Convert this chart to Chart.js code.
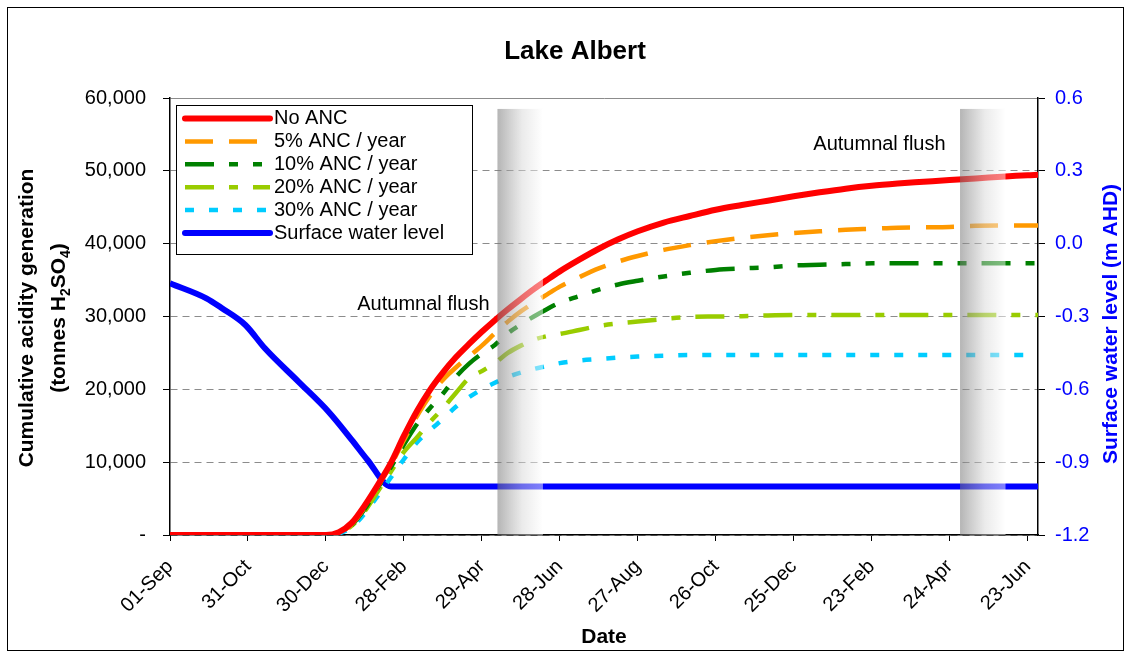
<!DOCTYPE html>
<html>
<head>
<meta charset="utf-8">
<script src="https://cdn.jsdelivr.net/npm/chart.js@4.4.0/dist/chart.umd.min.js"></script>
<style>
html,body{margin:0;padding:0;background:#fff;}
#wrap{position:relative;width:1126px;height:657px;}
#frame{position:absolute;left:7px;top:7px;width:1115px;height:642px;border:1px solid #000;pointer-events:none;}
</style>
</head>
<body>
<div id="wrap"><canvas id="c" width="1126" height="657"></canvas><div id="frame"></div></div>
<script>
// ---- data (day index counted from 01-Sep) ----
const days   = [0,120,130,140,150,160,170,180,190,200,210,220,230,240,250,260,270,280,290,300,315,330,345,360,380,400,420,440,460,480,500,520,540,560,580,600,620,640,660,668];
const noANC  = [0,0,400,1700,4100,6900,9900,13600,17000,19900,22300,24400,26200,27900,29500,31000,32400,33750,35000,36200,37800,39300,40600,41700,42900,43800,44650,45300,45900,46500,47050,47550,47950,48250,48500,48750,48950,49200,49400,49450];
const anc5   = [0,0,330,1500,3800,6700,9600,13000,16300,19100,21300,23000,24500,26000,27700,29300,30700,31900,33000,34100,35400,36600,37550,38300,39150,39800,40350,40800,41150,41450,41700,41900,42050,42200,42250,42300,42450,42500,42500,42500];
const anc10  = [0,0,300,1400,3600,6500,9300,12400,15200,17400,19400,21700,23500,24900,26100,27700,28900,30000,31000,31900,32800,33700,34400,34900,35500,36000,36400,36600,36750,37000,37100,37200,37300,37300,37300,37300,37300,37300,37300,37300];
const anc20  = [0,0,250,1300,3300,6000,8700,11400,13400,15500,17400,19500,21500,22500,23600,25000,26000,26800,27300,27600,28150,28700,29050,29300,29650,29950,30000,30050,30150,30200,30200,30200,30200,30200,30200,30200,30200,30200,30200,30200];
const anc30  = [0,0,200,1100,3000,5400,7900,10400,12700,14400,15900,17600,18900,20000,20900,21700,22300,22800,23200,23600,23950,24150,24350,24500,24600,24700,24700,24700,24700,24700,24700,24700,24700,24700,24700,24700,24700,24700,24700,24700];
const waterDays  = [0,28,40,58,73,99,122,140,152,170,668];
const waterLevel = [-0.163,-0.225,-0.266,-0.335,-0.431,-0.569,-0.692,-0.809,-0.891,-1.0,-1.0];
const tickLabels = ['01-Sep','31-Oct','30-Dec','28-Feb','29-Apr','28-Jun','27-Aug','26-Oct','25-Dec','23-Feb','24-Apr','23-Jun'];
const leftTicks  = [0,10000,20000,30000,40000,50000,60000];
const rightTicks = [-1.2,-0.9,-0.6,-0.3,0.0,0.3,0.6];
// autumnal flush periods (day index) and band height
const flushStart = [252,608];
const flushEnd   = [287,643];
const flushTop   = [58500,58500];

const FONT = '"Liberation Sans", Arial, Helvetica, sans-serif';
const pts = (xs, ys) => xs.map((d,i)=>({x:d, y:ys[i]}));

const labelCfg = {
  flushText: 'Autumnal flush',
  flushAt: [[195,31700],[546,53550]],
  legendBox: {left:176, top:105, right:472, bottom:254, x0:185, x1:270, tx:274, y0:118.5, dy:22.9}
};

const overlay = {
  id:'overlay',
  afterDatasetsDraw(chart){
    const {ctx, scales:{x,y}} = chart;
    ctx.save();
    for(let i=0;i<flushStart.length;i++){
      const x1=x.getPixelForValue(flushStart[i]), x2=x.getPixelForValue(flushEnd[i]);
      const yt=y.getPixelForValue(flushTop[i]), yb=y.getPixelForValue(0);
      const g=ctx.createLinearGradient(x1,0,x2,0);
      g.addColorStop(0,'rgba(120,120,120,0.55)');
      g.addColorStop(0.55,'rgba(215,215,215,0.5)');
      g.addColorStop(1,'rgba(255,255,255,0.5)');
      ctx.fillStyle=g;
      ctx.fillRect(x1,yt,x2-x1,yb-yt);
    }
    ctx.restore();
  },
  afterDraw(chart){
    const {ctx, scales:{x,y}} = chart;
    ctx.save();
    // title
    ctx.fillStyle='#000';
    ctx.font='bold 26px '+FONT;
    ctx.textAlign='center'; ctx.textBaseline='middle';
    ctx.fillText('Lake Albert', 575, 52);
    // annotations
    ctx.font='20px '+FONT;
    labelCfg.flushAt.forEach(([d,v])=>{
      ctx.fillText(labelCfg.flushText, x.getPixelForValue(d), y.getPixelForValue(v));
    });
    // left axis title
    ctx.save();
    ctx.translate(27,318); ctx.rotate(-Math.PI/2);
    ctx.font='bold 21px '+FONT;
    ctx.fillText('Cumulative acidity generation',0,0);
    ctx.restore();
    ctx.save();
    ctx.translate(59,318); ctx.rotate(-Math.PI/2);
    const segs=[['(tonnes H',0],['2',1],['SO',0],['4',1],[')',0]];
    const fMain='bold 21px '+FONT, fSub='bold 14px '+FONT;
    let tot=0;
    segs.forEach(([t,s])=>{ctx.font=s?fSub:fMain; tot+=ctx.measureText(t).width;});
    let cx=-tot/2;
    ctx.textAlign='left';
    segs.forEach(([t,s])=>{ctx.font=s?fSub:fMain; ctx.fillText(t,cx,s?7:0); cx+=ctx.measureText(t).width;});
    ctx.restore();
    // right axis title
    ctx.save();
    ctx.translate(1111,324); ctx.rotate(-Math.PI/2);
    ctx.font='bold 21px '+FONT; ctx.fillStyle='#0000FF'; ctx.textAlign='center';
    ctx.fillText('Surface water level (m AHD)',0,0);
    ctx.restore();
    // legend
    const L=labelCfg.legendBox;
    ctx.fillStyle='#fff';
    ctx.fillRect(L.left,L.top,L.right-L.left,L.bottom-L.top);
    ctx.strokeStyle='#000'; ctx.lineWidth=1;
    ctx.strokeRect(L.left+0.5,L.top+0.5,L.right-L.left,L.bottom-L.top);
    chart.data.datasets.forEach((ds,i)=>{
      const yy=L.y0+i*L.dy;
      ctx.save();
      ctx.strokeStyle=ds.borderColor; ctx.lineWidth=ds.borderWidth;
      ctx.setLineDash(ds.borderDash||[]);
      ctx.lineCap=ds.borderDash?'butt':'round';
      ctx.beginPath(); ctx.moveTo(L.x0,yy); ctx.lineTo(L.x1,yy); ctx.stroke();
      ctx.restore();
      ctx.fillStyle='#000'; ctx.font='20px '+FONT; ctx.textAlign='left'; ctx.textBaseline='middle';
      ctx.fillText(ds.label,L.tx,yy);
    });
    ctx.restore();
  }
};

const common = {pointRadius:0, pointHoverRadius:0, fill:false, cubicInterpolationMode:'monotone', borderCapStyle:'butt', borderJoinStyle:'round'};

new Chart(document.getElementById('c'), {
  type:'line',
  data:{datasets:[
    {...common, label:'No ANC', data:pts(days,noANC), borderColor:'#FF0000', borderWidth:6, yAxisID:'y'},
    {...common, label:'5% ANC / year', data:pts(days,anc5), borderColor:'#FF9900', borderWidth:4.5, borderDash:[28,16], yAxisID:'y'},
    {...common, label:'10% ANC / year', data:pts(days,anc10), borderColor:'#008000', borderWidth:4.5, borderDash:[29,15,9,15,9,15], yAxisID:'y'},
    {...common, label:'20% ANC / year', data:pts(days,anc20), borderColor:'#99CC00', borderWidth:4.5, borderDash:[29,15,9,15], yAxisID:'y'},
    {...common, label:'30% ANC / year', data:pts(days,anc30), borderColor:'#00CCFF', borderWidth:4.5, borderDash:[9,15], yAxisID:'y'},
    {...common, label:'Surface water level', data:pts(waterDays,waterLevel), borderColor:'#0000FF', borderWidth:6, yAxisID:'y1'}
  ]},
  options:{
    responsive:false, animation:false, devicePixelRatio:1,
    layout:{padding:{top:98,left:0,right:0,bottom:0}},
    plugins:{legend:{display:false}, tooltip:{enabled:false}, title:{display:false}},
    scales:{
      x:{type:'linear', min:0, max:668,
        afterBuildTicks:s=>{s.ticks=tickLabels.map((_,i)=>({value:i*60}));},
        afterFit:s=>{s.height=122;},
        ticks:{callback:(v)=>tickLabels[Math.round(v/60)]||'', autoSkip:false, minRotation:45, maxRotation:45, color:'#000', font:{family:FONT,size:20}, padding:14},
        grid:{drawOnChartArea:false, tickLength:6, tickColor:'#000', tickWidth:1},
        border:{color:'#000', width:1.5},
        title:{display:true, text:'Date', color:'#000', font:{family:FONT,size:21,weight:'bold'}, padding:{top:0,bottom:7}}
      },
      y:{position:'left', min:0, max:60000,
        afterBuildTicks:s=>{s.ticks=leftTicks.map(v=>({value:v}));},
        afterFit:s=>{s.width=170;},
        ticks:{callback:v=>v===0?'-':v.toLocaleString('en-US'), color:'#000', font:{family:FONT,size:20}, padding:17},
        grid:{color:'#8c8c8c', lineWidth:1, tickLength:7, tickColor:'#000', tickBorderDash:[]},
        border:{color:'#000', width:1.5, dash:ctx=>(ctx.tick && ctx.tick.value===60000)?[]:[7,5]}
      },
      y1:{position:'right', min:-1.2, max:0.6,
        afterBuildTicks:s=>{s.ticks=rightTicks.map(v=>({value:v}));},
        afterFit:s=>{s.width=88;},
        ticks:{callback:v=>v.toFixed(1), color:'#0000FF', font:{family:FONT,size:20}, padding:10},
        grid:{drawOnChartArea:false, tickLength:7, tickColor:'#000'},
        border:{color:'#000', width:1.5}
      }
    }
  },
  plugins:[overlay]
});
</script>
</body>
</html>
